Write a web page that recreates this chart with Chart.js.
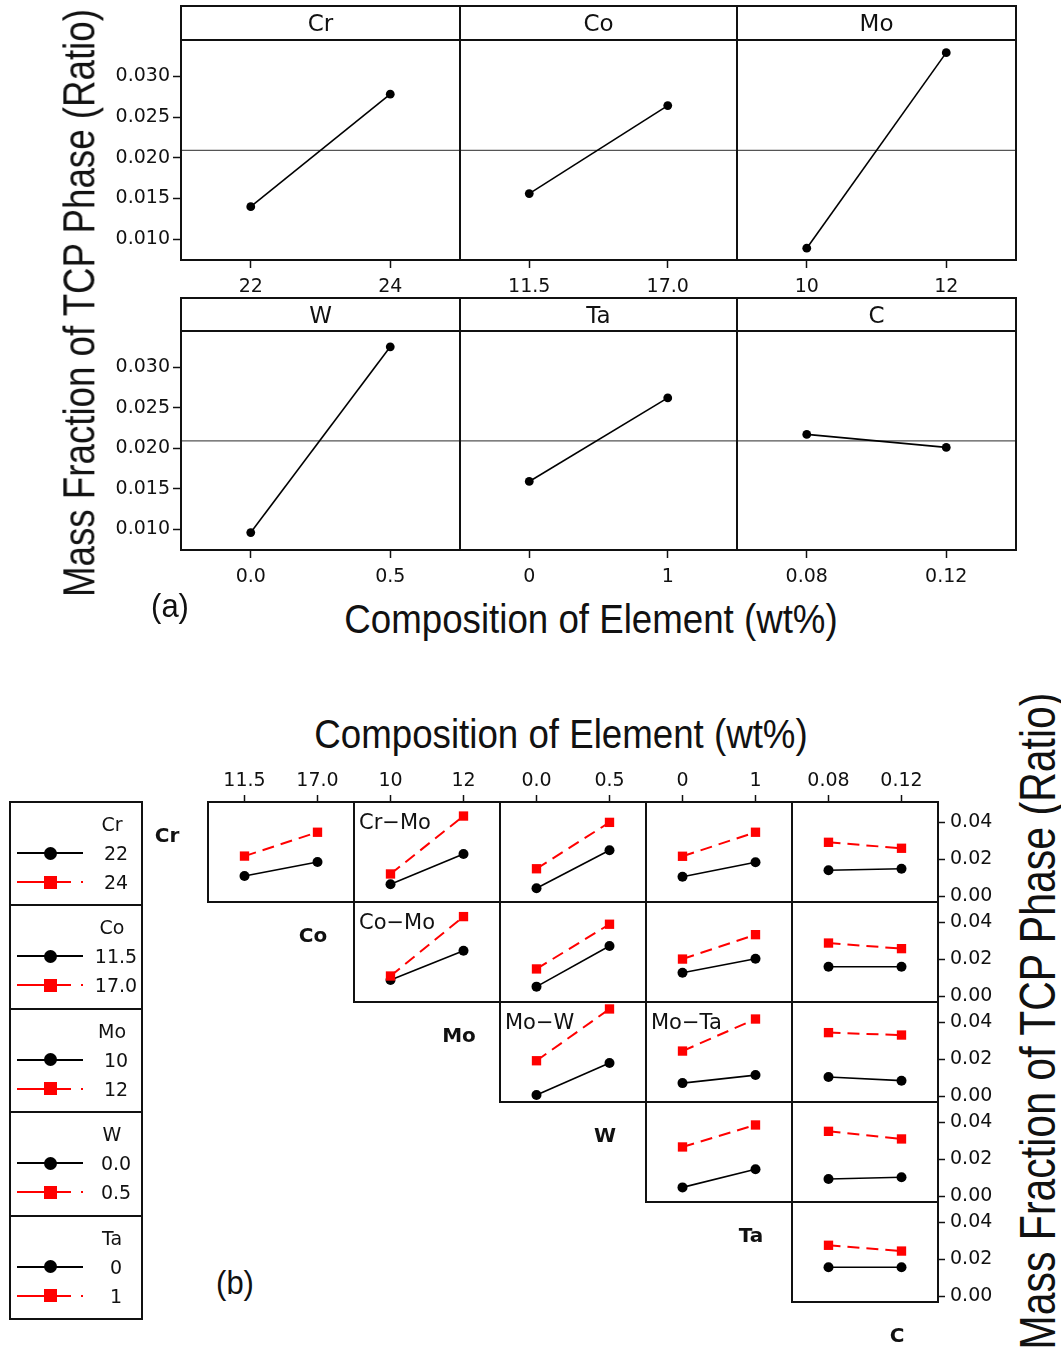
<!DOCTYPE html>
<html>
<head>
<meta charset="utf-8">
<script src="https://cdn.jsdelivr.net/npm/chart.js@4.4.0/dist/chart.umd.min.js"></script>
<style>
  body { margin: 0; background: #fff; }
  #page { position: relative; width: 1061px; height: 1354px; overflow: hidden; font-family: "DejaVu Sans", sans-serif; color: #111; }
  canvas { position: absolute; }
  .frame { position: absolute; border: 2px solid #111; box-sizing: border-box; pointer-events: none; }
  .txt { position: absolute; white-space: nowrap; transform: translate(-50%, -50%); line-height: 1; }
  .title { font-family: "Liberation Sans", Arial, sans-serif; }
  .bar { position: absolute; }
</style>
</head>
<body>
<div id="page"></div>
<script>
// factors and their two levels
const elements = ['Cr', 'Co', 'Mo', 'W', 'Ta', 'C'];
const levelLow = [22, 11.5, 10, 0.0, 0, 0.08];
const levelHigh = [24, 17.0, 12, 0.5, 1, 0.12];
const labelLow = ['22', '11.5', '10', '0.0', '0', '0.08'];
const labelHigh = ['24', '17.0', '12', '0.5', '1', '0.12'];

// (a) main effects
const mainLow = [0.0140, 0.0156, 0.0089, 0.0096, 0.0159, 0.0217];
const mainHigh = [0.0278, 0.0264, 0.0329, 0.0325, 0.0262, 0.0201];
const grandMean = 0.0209;
const mainTicks = [0.010, 0.015, 0.020, 0.025, 0.030];

// (b) interactions, row factor - column factor
const interPairs = ['Cr-Co', 'Cr-Mo', 'Cr-W', 'Cr-Ta', 'Cr-C',
                    'Co-Mo', 'Co-W', 'Co-Ta', 'Co-C',
                    'Mo-W', 'Mo-Ta', 'Mo-C',
                    'W-Ta', 'W-C',
                    'Ta-C'];
// row factor at low level (black), values at column factor low / high
const traceLow = [[0.0110, 0.0185], [0.0066, 0.0228], [0.0044, 0.0248], [0.0106, 0.0184], [0.0141, 0.0149],
                  [0.0089, 0.0246], [0.0053, 0.0271], [0.0128, 0.0203], [0.0160, 0.0160],
                  [0.0008, 0.0180], [0.0072, 0.0115], [0.0105, 0.0085],
                  [0.0049, 0.0146], [0.0094, 0.0103],
                  [0.0157, 0.0157]];
// row factor at high level (red)
const traceHigh = [[0.0217, 0.0345], [0.0121, 0.0432], [0.0149, 0.0398], [0.0216, 0.0345], [0.0291, 0.0259],
                   [0.0110, 0.0429], [0.0148, 0.0388], [0.0201, 0.0332], [0.0287, 0.0257],
                   [0.0192, 0.0470], [0.0244, 0.0416], [0.0343, 0.0330],
                   [0.0266, 0.0384], [0.0350, 0.0309],
                   [0.0275, 0.0244]];
const taggedPairs = ['Cr-Mo', 'Co-Mo', 'Mo-W', 'Mo-Ta'];
const interTicks = [0.00, 0.02, 0.04];

const page = document.getElementById('page');
const tickFont = { family: 'DejaVu Sans', size: 19 };

function text(str, x, y, size, extra, cls) {
  const d = document.createElement('div');
  d.className = 'txt' + (cls ? ' ' + cls : '');
  d.textContent = str;
  d.style.left = x + 'px';
  d.style.top = y + 'px';
  d.style.fontSize = size + 'px';
  if (extra) Object.assign(d.style, extra);
  page.appendChild(d);
  return d;
}

function frame(x1, y1, x2, y2) {
  const d = document.createElement('div');
  d.className = 'frame';
  d.style.left = (x1 - 1) + 'px';
  d.style.top = (y1 - 1) + 'px';
  d.style.width = (x2 - x1 + 2) + 'px';
  d.style.height = (y2 - y1 + 2) + 'px';
  page.appendChild(d);
}

function bar(x, y, w, h, color) {
  const d = document.createElement('div');
  d.className = 'bar';
  Object.assign(d.style, { left: x + 'px', top: y + 'px', width: w + 'px', height: h + 'px', background: color });
  page.appendChild(d);
  return d;
}

function canvasAt(left, top, w, h) {
  const cv = document.createElement('canvas');
  cv.width = w; cv.height = h;
  cv.style.left = left + 'px'; cv.style.top = top + 'px';
  cv.style.width = w + 'px'; cv.style.height = h + 'px';
  page.appendChild(cv);
  return cv;
}

function zeroPad(s) {
  s.paddingLeft = 0; s.paddingRight = 0; s.paddingTop = 0; s.paddingBottom = 0;
}

// grand mean reference line for the main-effects panels
const meanLine = {
  id: 'meanLine',
  beforeDatasetsDraw(chart, args, opts) {
    if (opts.value == null) return;
    const { ctx, chartArea: a, scales: { y } } = chart;
    const py = y.getPixelForValue(opts.value);
    ctx.save();
    ctx.strokeStyle = '#555';
    ctx.lineWidth = 1.3;
    ctx.beginPath();
    ctx.moveTo(a.left, py);
    ctx.lineTo(a.right, py);
    ctx.stroke();
    ctx.restore();
  }
};

function buildChart(cv, p) {
  const axisGrid = { drawOnChartArea: false, drawTicks: true, tickLength: p.tickLen, tickColor: '#111', tickWidth: 1.5 };
  return new Chart(cv, {
    type: 'line',
    data: { datasets: p.datasets },
    options: {
      responsive: false,
      animation: false,
      events: [],
      layout: { padding: 0, autoPadding: false },
      plugins: { legend: { display: false }, tooltip: { enabled: false }, meanLine: { value: p.mean } },
      scales: {
        x: {
          type: 'linear', position: p.xPos, display: p.showX,
          min: p.xMin, max: p.xMax,
          afterBuildTicks: s => { s.ticks = p.xTicks.map(v => ({ value: v })); },
          afterFit: s => { if (p.showX) s.height = p.axisH; zeroPad(s); },
          ticks: { callback: (v, i) => p.xLabels[i], font: tickFont, color: '#111', padding: p.xPad, maxRotation: 0, autoSkip: false },
          grid: axisGrid,
          border: { display: false }
        },
        y: {
          type: 'linear', position: p.yPos, display: p.showY,
          min: p.yMin, max: p.yMax,
          afterBuildTicks: s => { s.ticks = p.yTicks.map(v => ({ value: v })); },
          afterFit: s => { if (p.showY) s.width = p.axisW; zeroPad(s); },
          ticks: { callback: v => v.toFixed(p.yDigits), font: tickFont, color: '#111', padding: p.yPad, autoSkip: false },
          grid: axisGrid,
          border: { display: false }
        }
      }
    },
    plugins: [meanLine]
  });
}

function lowSeries(xl, xh, pair, r) {
  return {
    data: [{ x: xl, y: pair[0] }, { x: xh, y: pair[1] }],
    borderColor: '#000', borderWidth: 1.6,
    pointStyle: 'circle', pointRadius: r, pointBackgroundColor: '#000', pointBorderWidth: 0,
    clip: false, order: 1
  };
}

function highSeries(xl, xh, pair) {
  return {
    data: [{ x: xl, y: pair[0] }, { x: xh, y: pair[1] }],
    borderColor: '#ff0000', borderWidth: 2, borderDash: [12, 7],
    pointStyle: 'rect', pointRadius: 6.6, pointBackgroundColor: '#ff0000', pointBorderWidth: 0,
    clip: false, order: 0
  };
}

// ---------- (a) main effects ----------
const topCols = [181, 460, 737, 1016];
const topRows = [{ strip: 6, top: 40, bottom: 260 }, { strip: 298, top: 331, bottom: 550 }];

elements.forEach((el, e) => {
  const row = topRows[Math.floor(e / 3)];
  const col = e % 3;
  const x1 = topCols[col], x2 = topCols[col + 1];
  const axisW = col === 0 ? 81 : 0;
  const axisH = 40;
  const cv = canvasAt(x1 - axisW, row.top, x2 - x1 + axisW, row.bottom - row.top + axisH);
  const lo = levelLow[e], hi = levelHigh[e], half = (hi - lo) / 2;
  buildChart(cv, {
    datasets: [lowSeries(lo, hi, [mainLow[e], mainHigh[e]], 4.4)],
    mean: grandMean,
    xPos: 'bottom', showX: true, xMin: lo - half, xMax: hi + half,
    xTicks: [lo, hi], xLabels: [labelLow[e], labelHigh[e]], axisH: axisH, xPad: 8,
    yPos: 'left', showY: col === 0, yMin: 0.00745, yMax: 0.03445,
    yTicks: mainTicks, yDigits: 3, yPad: 3, axisW: axisW, tickLen: 8
  });
  frame(x1, row.strip, x2, row.top);
  frame(x1, row.top, x2, row.bottom);
  text(el, (x1 + x2) / 2, (row.strip + row.top) / 2, 23);
});

text('Mass Fraction of TCP Phase (Ratio)', 80, 303, 36.7,
     { transform: 'translate(-50%, -50%) rotate(-90deg) scale(1, 1.2)' }, 'title');
text('(a)', 170, 605, 31, { transform: 'translate(-50%, -50%) scale(1, 1.1)' }, 'title');
text('Composition of Element (wt%)', 591, 620, 36.7, { transform: 'translate(-50%, -50%) scale(1, 1.1)' }, 'title');

// ---------- (b) interactions ----------
const gridLeft = 208, gridTop = 802, cellW = 146, cellH = 100;
let k = 0;
for (let r = 0; r < 5; r++) {
  for (let c = r; c < 5; c++) {
    const ci = c + 1;
    const cx = gridLeft + c * cellW, cy = gridTop + r * cellH;
    const axisTop = r === 0 ? 36 : 0;
    const axisRight = c === 4 ? 62 : 0;
    const cv = canvasAt(cx, cy - axisTop, cellW + axisRight, cellH + axisTop);
    const lo = levelLow[ci], hi = levelHigh[ci], half = (hi - lo) / 2;
    buildChart(cv, {
      datasets: [lowSeries(lo, hi, traceLow[k], 5), highSeries(lo, hi, traceHigh[k])],
      mean: null,
      xPos: 'top', showX: r === 0, xMin: lo - half, xMax: hi + half,
      xTicks: [lo, hi], xLabels: [labelLow[ci], labelHigh[ci]], axisH: axisTop, xPad: 3,
      yPos: 'right', showY: c === 4, yMin: -0.00295, yMax: 0.05074,
      yTicks: interTicks, yDigits: 2, yPad: 5, axisW: axisRight, tickLen: 7
    });
    frame(cx, cy, cx + cellW, cy + cellH);
    if (taggedPairs.includes(interPairs[k])) {
      text(interPairs[k].replace('-', '\u2212'), cx + 5, cy + 20, 21, { transform: 'translate(0, -50%)' });
    }
    k++;
  }
}

// factor names along the diagonal
elements.forEach((el, i) => {
  text(el, gridLeft + (i - 1) * cellW + 105, gridTop + i * cellH + 33, 20, { fontWeight: 'bold' });
});

// legend boxes
const legTop = 802, legStep = 103.4;
for (let f = 0; f < 5; f++) {
  const t = legTop + f * legStep;
  frame(10, Math.round(t), 142, Math.round(t + legStep));
  text(elements[f], 112, t + 22, 19);
  const y1 = t + 51, y2 = t + 80;
  bar(17, y1 - 1, 66, 2, '#000');
  const dot = bar(44, y1 - 6.5, 13, 13, '#000');
  dot.style.borderRadius = '50%';
  bar(17, y2 - 1, 27, 2, '#ff0000');
  bar(56, y2 - 1, 15, 2, '#ff0000');
  bar(81, y2 - 1, 2, 2, '#ff0000');
  bar(44, y2 - 6.5, 13, 13, '#ff0000');
  text(labelLow[f], 116, y1, 19);
  text(labelHigh[f], 116, y2, 19);
}

text('Composition of Element (wt%)', 561, 735, 36.7, { transform: 'translate(-50%, -50%) scale(1, 1.1)' }, 'title');
text('Mass Fraction of TCP Phase (Ratio)', 1039, 1021, 41,
     { transform: 'translate(-50%, -50%) rotate(-90deg) scale(1, 1.2)' }, 'title');
text('(b)', 235, 1282, 31, { transform: 'translate(-50%, -50%) scale(1, 1.1)' }, 'title');
</script>
</body>
</html>
